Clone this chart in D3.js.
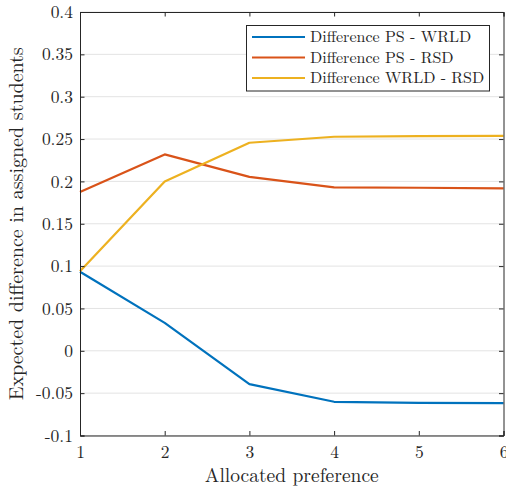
<!DOCTYPE html>
<html>
<head>
<meta charset="utf-8">
<script src="https://cdn.jsdelivr.net/npm/d3@7/dist/d3.min.js"></script>
<style>
  html, body { margin: 0; padding: 0; background: #fff; }
  svg { display: block; }
  text { font-family: "Latin Modern Roman", "CMU Serif", "Liberation Serif", serif; fill: #262626; }
</style>
</head>
<body>
<svg id="chart" width="506" height="492"></svg>
<script>
// Allocated preference rank (x) and the three pairwise differences
const preferences = [1, 2, 3, 4, 5, 6];
const diffPsWrld  = [0.0933, 0.033, -0.0393, -0.0602, -0.0614, -0.0618];
const diffPsRsd   = [0.1874, 0.2319, 0.2054, 0.1929, 0.1925, 0.1917];
const diffWrldRsd = [0.0940, 0.2000, 0.2456, 0.2527, 0.2535, 0.2538];

const seriesNames  = ["Difference PS - WRLD", "Difference PS - RSD", "Difference WRLD - RSD"];
const seriesColors = ["#0072BD", "#D95319", "#EDB120"];
const yTicks = [-0.1, -0.05, 0, 0.05, 0.1, 0.15, 0.2, 0.25, 0.3, 0.35, 0.4];
const xTicks = [1, 2, 3, 4, 5, 6];

const xLabel = "Allocated preference";
const yLabel = "Expected difference in assigned students";

const series = [diffPsWrld, diffPsRsd, diffWrldRsd].map((vals, i) => ({
  name: seriesNames[i], color: seriesColors[i],
  points: preferences.map((p, j) => ({ x: p, y: vals[j] }))
}));

const svg = d3.select("#chart");
const plotLeft = 80, plotRight = 503.5, plotTop = 12, plotBottom = 435.5;

const x = d3.scaleLinear().domain([1, 6]).range([plotLeft, plotRight]);
const y = d3.scaleLinear().domain([-0.1, 0.4]).range([plotBottom, plotTop]);

const fmt = v => String(+v.toFixed(2));

// horizontal grid
svg.append("g")
  .selectAll("line")
  .data(yTicks)
  .join("line")
  .attr("x1", plotLeft).attr("x2", plotRight)
  .attr("y1", d => y(d)).attr("y2", d => y(d))
  .attr("stroke", "#e3e3e3").attr("stroke-width", 1);

// data lines
const line = d3.line().x(d => x(d.x)).y(d => y(d.y));
svg.append("g")
  .selectAll("path")
  .data(series)
  .join("path")
  .attr("d", d => line(d.points))
  .attr("fill", "none")
  .attr("stroke", d => d.color)
  .attr("stroke-width", 2.2)
  .attr("stroke-linejoin", "round");

// axes (ticks inward, box on)
const axisColor = "#262626";
const tickLen = 4.5;
const bottomAxis = d3.axisBottom(x).tickValues(xTicks).tickSize(-tickLen).tickPadding(10).tickFormat(d3.format("d"));
const topAxis = d3.axisTop(x).tickValues(xTicks).tickSize(-tickLen).tickFormat("");
const leftAxis = d3.axisLeft(y).tickValues(yTicks).tickSize(-tickLen).tickPadding(7).tickFormat(fmt);
const rightAxis = d3.axisRight(y).tickValues(yTicks).tickSize(-tickLen).tickFormat("");

function styleAxis(g) {
  g.select(".domain").attr("stroke", axisColor).attr("stroke-width", 1);
  g.selectAll(".tick line").attr("stroke", axisColor);
  g.selectAll(".tick text").attr("fill", axisColor)
    .style("font-family", '"Latin Modern Roman", "CMU Serif", "Liberation Serif", serif')
    .style("font-size", "17.5px");
}

svg.append("g").attr("transform", `translate(0,${plotBottom})`).call(bottomAxis).call(styleAxis);
svg.append("g").attr("transform", `translate(0,${plotTop})`).call(topAxis).call(styleAxis);
svg.append("g").attr("transform", `translate(${plotLeft},0)`).call(leftAxis).call(styleAxis);
svg.append("g").attr("transform", `translate(${plotRight},0)`).call(rightAxis).call(styleAxis);

// axis labels
svg.append("text")
  .attr("x", (plotLeft + plotRight) / 2).attr("y", 482)
  .attr("text-anchor", "middle")
  .style("font-size", "19.5px")
  .text(xLabel);

svg.append("text")
  .attr("transform", `translate(23,${(plotTop + plotBottom) / 2}) rotate(-90)`)
  .attr("text-anchor", "middle")
  .style("font-size", "20px")
  .text(yLabel);

// legend
const legend = svg.append("g");
legend.append("rect")
  .attr("x", 246.5).attr("y", 25.5)
  .attr("width", 243).attr("height", 65.5)
  .attr("fill", "#fff").attr("stroke", axisColor).attr("stroke-width", 1);
series.forEach((s, i) => {
  const cy = 37 + i * 20.5;
  legend.append("line")
    .attr("x1", 252).attr("x2", 305)
    .attr("y1", cy).attr("y2", cy)
    .attr("stroke", s.color).attr("stroke-width", 2.2);
  legend.append("text")
    .attr("x", 310).attr("y", cy + 5)
    .style("font-size", "16px")
    .text(s.name);
});
</script>
</body>
</html>
